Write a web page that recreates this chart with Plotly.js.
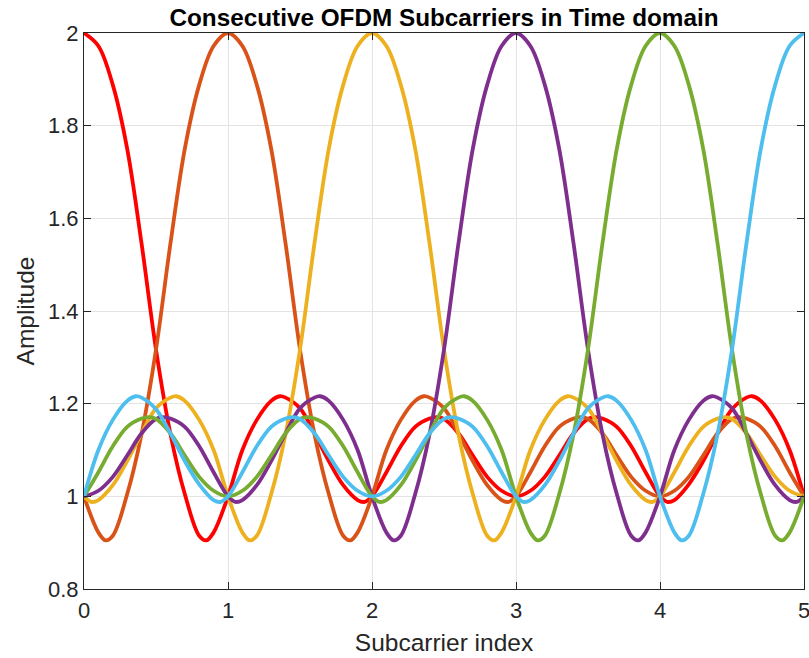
<!DOCTYPE html>
<html>
<head>
<meta charset="utf-8">
<script src="https://cdn.plot.ly/plotly-3.0.1.min.js"></script>
<style>
  html, body { margin: 0; padding: 0; background: #ffffff; }
  #chart { width: 809px; height: 658px; }
</style>
</head>
<body>
<div id="chart"></div>
<script>
// The common pulse shape (offset from a subcarrier's own index -> amplitude above 1).
const offset = [0, 0.1, 0.2, 0.3, 0.4, 0.5, 0.6, 0.7, 0.8, 0.85, 0.9, 1.0,
                1.1, 1.2, 1.3, 1.36, 1.4, 1.5, 1.6, 1.7, 1.8, 1.9, 1.95, 2.0,
                2.1, 2.2, 2.3, 2.4, 2.45, 2.5, 2.6, 2.7, 2.8, 2.9, 3.0,
                3.1, 3.2, 3.3, 3.4, 3.5, 3.55, 3.6, 3.7, 3.8, 3.9, 4.0,
                4.05, 4.1, 4.2, 4.3, 4.4, 4.5, 4.6, 4.64, 4.7, 4.8, 4.9, 5.0];
const pulse  = [1.000, 0.972, 0.888, 0.750, 0.545, 0.317, 0.135, 0.005, -0.085, -0.095, -0.078, 0.000,
                0.100, 0.165, 0.206, 0.216, 0.213, 0.190, 0.136, 0.076, 0.024, -0.008, -0.012, 0.000,
                0.052, 0.108, 0.150, 0.168, 0.171, 0.167, 0.136, 0.088, 0.042, 0.012, 0.000,
                0.012, 0.042, 0.088, 0.136, 0.167, 0.171, 0.168, 0.150, 0.108, 0.052, 0.000,
                -0.012, -0.008, 0.026, 0.076, 0.136, 0.188, 0.213, 0.216, 0.206, 0.165, 0.100, 0.000];
const baseLevel = 1;

// Subcarriers (peak positions) and their colours
const subcarriers = [0, 1, 2, 3, 4, 5];
const colors = ['#FF0000', '#D95319', '#EDB120', '#7E2F8E', '#77AC30', '#4DBEEE'];

const xTicks = [0, 1, 2, 3, 4, 5];
const xTickText = ['0', '1', '2', '3', '4', '5'];
const yTicks = [0.8, 1, 1.2, 1.4, 1.6, 1.8, 2];
const yTickText = ['0.8', '1', '1.2', '1.4', '1.6', '1.8', '2'];
const xRange = [0, 5];
const yRange = [0.8, 2];

function buildCurve(k) {
  const pts = [];
  for (let i = 0; i < offset.length; i++) {
    const s = offset[i];
    const v = baseLevel + pulse[i];
    if (k - s >= xRange[0] - 1e-9) pts.push([k - s, v]);
    if (s > 0 && k + s <= xRange[1] + 1e-9) pts.push([k + s, v]);
  }
  pts.sort((a, b) => a[0] - b[0]);
  return { x: pts.map(p => p[0]), y: pts.map(p => p[1]) };
}

const traces = subcarriers.map((k, i) => {
  const c = buildCurve(k);
  return {
    x: c.x, y: c.y, type: 'scatter', mode: 'lines',
    line: { color: colors[i], width: 3.8, shape: 'spline', smoothing: 1 },
    hoverinfo: 'skip', showlegend: false
  };
});

const font = 'Liberation Sans, Arial, Helvetica, sans-serif';
const axisColor = '#262626';

const layout = {
  width: 809, height: 658,
  margin: { l: 84, r: 5, t: 33, b: 69 },
  paper_bgcolor: '#ffffff', plot_bgcolor: '#ffffff',
  font: { family: font, color: axisColor, size: 22 },
  title: {
    text: 'Consecutive OFDM Subcarriers in Time domain',
    font: { family: font, size: 24.3, color: '#000000', weight: 'bold' },
    x: 0.5, xref: 'paper', xanchor: 'center',
    y: 1 - 17 / 658, yref: 'container', yanchor: 'middle'
  },
  xaxis: {
    range: [xRange[0] - 1e-6, xRange[1] + 1e-6], tickvals: xTicks, ticktext: xTickText,
    showgrid: true, gridcolor: '#E3E3E3', gridwidth: 1,
    zeroline: false, showline: true, linecolor: axisColor, linewidth: 1,
    mirror: 'allticks', ticks: 'inside', ticklen: 7, tickcolor: axisColor,
    tickfont: { family: font, size: 22, color: axisColor },
    ticklabelstandoff: 2, ticklabeloverflow: 'allow',
    title: { text: 'Subcarrier index', font: { family: font, size: 24.5, color: axisColor }, standoff: 11 }
  },
  yaxis: {
    range: [yRange[0] - 1e-6, yRange[1] + 1e-6], tickvals: yTicks, ticktext: yTickText,
    showgrid: true, gridcolor: '#E3E3E3', gridwidth: 1,
    zeroline: false, showline: true, linecolor: axisColor, linewidth: 1,
    mirror: 'allticks', ticks: 'inside', ticklen: 7, tickcolor: axisColor,
    tickfont: { family: font, size: 22, color: axisColor },
    ticklabelstandoff: 0, ticklabeloverflow: 'allow',
    title: { text: 'Amplitude', font: { family: font, size: 24.5, color: axisColor }, standoff: 6 }
  }
};

Plotly.newPlot('chart', traces, layout, { displayModeBar: false, staticPlot: true });
</script>
</body>
</html>
